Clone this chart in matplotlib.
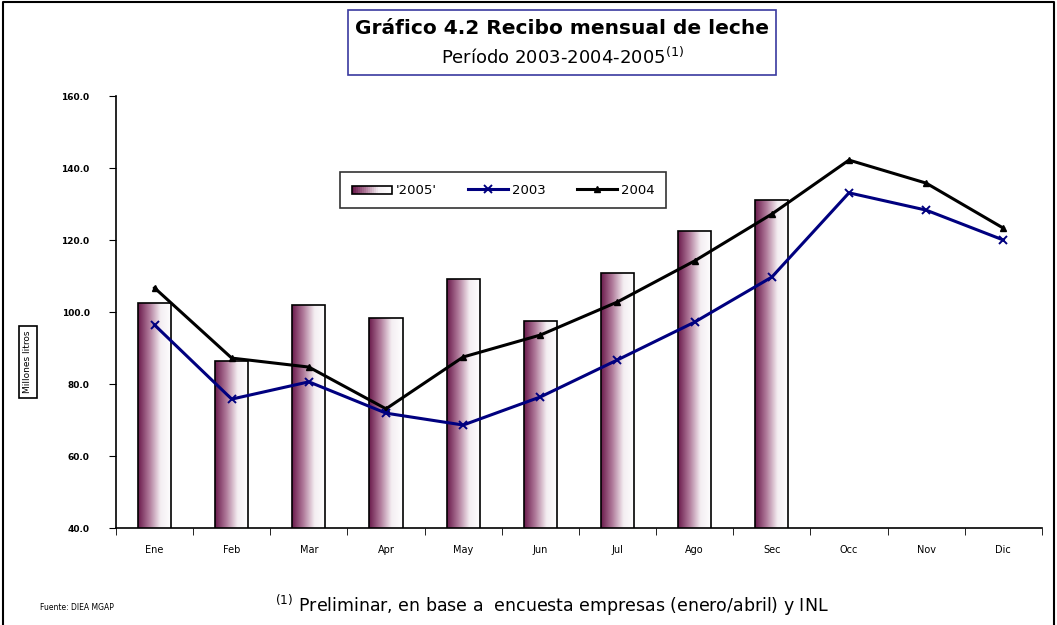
import numpy as np
import matplotlib.pyplot as plt
from matplotlib.patches import Rectangle
from matplotlib.colors import LinearSegmentedColormap
from matplotlib.legend_handler import HandlerBase

meses = ["Ene", "Feb", "Mar", "Apr", "May", "Jun", "Jul", "Ago", "Sec", "Occ", "Nov", "Dic"]
v2005 = [102.5, 86.4, 102.0, 98.3, 109.2, 97.5, 110.8, 122.5, 131.1]
v2003 = [96.4, 75.8, 80.6, 71.9, 68.6, 76.4, 86.7, 97.2, 109.7, 133.1, 128.3, 120.0]
v2004 = [106.7, 87.2, 84.7, 73.1, 87.5, 93.6, 102.8, 114.2, 127.2, 142.2, 135.8, 123.3]
yticks = [40, 60, 80, 100, 120, 140, 160]

cmap = LinearSegmentedColormap.from_list("grad", ["#6a1a4c", "#b07a9a", "#f4eef2", "#ffffff"])


class GradHandler(HandlerBase):
    # legend key for the bars: small horizontal gradient box
    def create_artists(self, legend, orig, xd, yd, w, h, fs, trans):
        arts = []
        n = 20
        for i in range(n):
            r = Rectangle((xd + w * i / n, yd), w / n, h, fc=cmap(i / (n - 1)),
                          ec="none", transform=trans)
            arts.append(r)
        arts.append(Rectangle((xd, yd), w, h, fc="none", ec="black", lw=1.2, transform=trans))
        return arts


fig = plt.figure(figsize=(10.57, 6.25), dpi=100)
ax = fig.add_axes([0.1097, 0.1552, 0.876, 0.6912])

x = np.arange(len(meses))
bw = 0.43
bars = ax.bar(x[:len(v2005)], v2005, width=bw, bottom=0, color="none",
              edgecolor="black", linewidth=1.2, zorder=3, label="'2005'")
grad = np.linspace(0, 1, 256).reshape(1, -1)
for b in bars:
    x0, w, h = b.get_x(), b.get_width(), b.get_height()
    im = ax.imshow(grad, cmap=cmap, aspect="auto", extent=[x0, x0 + w, 40, h],
                   zorder=2, interpolation="bicubic")
    im.set_clip_path(b)

ax.plot(x, v2003, color="#00007f", lw=2.2, marker="x", ms=6, mew=1.4, zorder=5, label="2003")
ax.plot(x, v2004, color="black", lw=2.2, marker="^", ms=5, zorder=4, label="2004")

ax.set_xlim(-0.5, 11.5)
ax.set_ylim(40, 160)
ax.set_yticks(yticks)
ax.set_yticklabels([f"{v:.1f}" for v in yticks], fontsize=6.5, fontweight="bold")
ax.set_xticks(x)
ax.set_xticklabels(meses, fontsize=7)
ax.set_xticks(np.arange(-0.5, 12, 1), minor=True)
ax.tick_params(axis="x", which="major", length=0, pad=12)
ax.tick_params(axis="x", which="minor", length=5, direction="out")
ax.tick_params(axis="y", length=5, direction="out", pad=14)
for s in ["top", "right"]:
    ax.spines[s].set_visible(False)
ax.spines["left"].set_linewidth(1.2)
ax.spines["bottom"].set_linewidth(1.2)

h, l = ax.get_legend_handles_labels()
order = [2, 0, 1]
leg = ax.legend([h[i] for i in order], [l[i] for i in order], ncol=3, loc="upper left",
                bbox_to_anchor=(0.235, 0.84), frameon=True, fancybox=False,
                edgecolor="black", fontsize=9.5, handlelength=3.0, handleheight=0.6,
                columnspacing=2.4, borderpad=0.9, handletextpad=0.3,
                handler_map={type(bars): GradHandler()})
leg.get_frame().set_linewidth(1.2)

# title box
fig.patches.append(Rectangle((348 / 1057, 1 - 75 / 625), 428 / 1057, 65 / 625,
                             transform=fig.transFigure, fill=False,
                             edgecolor="#3a3aa0", lw=1.2))
fig.text(562 / 1057, 1 - 29 / 625, "Gráfico 4.2 Recibo mensual de leche",
         ha="center", va="center", fontsize=14.5, fontweight="bold")
fig.text(562 / 1057, 1 - 57 / 625, "Período 2003-2004-2005$^{(1)}$",
         ha="center", va="center", fontsize=13)

# outer frame
fig.add_artist(plt.Line2D([3 / 1057, 3 / 1057, 1054 / 1057, 1054 / 1057],
                          [0, 0.997, 0.997, 0], transform=fig.transFigure,
                          color="black", lw=1.5))

fig.text(28 / 1057, 1 - 362 / 625, "Millones litros", rotation=90, ha="center",
         va="center", fontsize=6.5,
         bbox=dict(boxstyle="square,pad=0.5", fc="white", ec="black", lw=1.2))

fig.text(40 / 1057, 1 - 607 / 625, "Fuente: DIEA MGAP", fontsize=5.5, va="center")
fig.text(275 / 1057, 1 - 605 / 625,
         "$^{(1)}$ Preliminar, en base a  encuesta empresas (enero/abril) y INL",
         fontsize=12.5, va="center")

fig.savefig("out.png", dpi=100)
